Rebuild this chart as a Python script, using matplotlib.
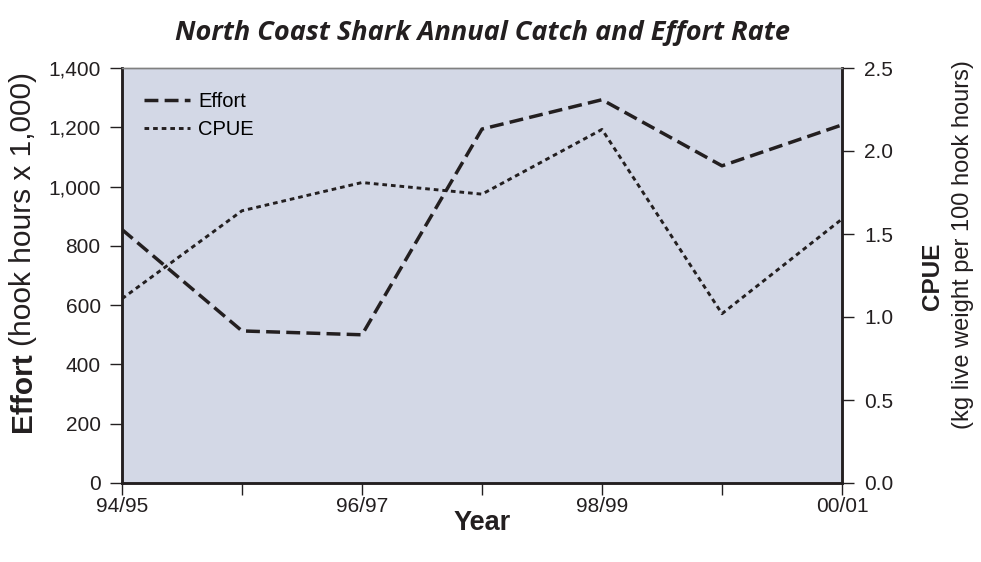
import matplotlib
matplotlib.use("Agg")
import matplotlib.pyplot as plt

# Season labels and annual series
seasons = ["94/95", "95/96", "96/97", "97/98", "98/99", "99/00", "00/01"]
effort = [855, 513, 500, 1194, 1293, 1070, 1208]      # hook hours x 1,000
cpue = [1.11, 1.64, 1.81, 1.74, 2.13, 1.02, 1.59]      # kg per 100 hook hours
effort_ticks = [0, 200, 400, 600, 800, 1000, 1200, 1400]
cpue_ticks = [0.0, 0.5, 1.0, 1.5, 2.0, 2.5]

INK = "#231f20"
W, H = 981, 562
plt.rcParams["font.family"] = ["Liberation Sans", "DejaVu Sans"]

fig = plt.figure(figsize=(W / 100, H / 100), dpi=100)
ax = fig.add_axes([122 / W, 1 - 483 / H, 720 / W, 415 / H])
ax.set_facecolor("#d3d8e6")
ax2 = ax.twinx()

x = list(range(len(seasons)))
l1, = ax.plot(x, effort, color=INK, lw=2.5, dashes=(4.0, 1.8), label="Effort")
l2, = ax2.plot(x, cpue, color=INK, lw=2.1, dashes=(1.6, 1.35), label="CPUE")

ax.set_xlim(0, 6)
ax.set_ylim(0, 1400)
ax2.set_ylim(0, 2.5)

ax.set_xticks(x)
ax.set_xticklabels([s if i % 2 == 0 else "" for i, s in enumerate(seasons)])
ax.set_yticks(effort_ticks)
ax.set_yticklabels([f"{v:,}" for v in effort_ticks])
ax2.set_yticks(cpue_ticks)
ax2.set_yticklabels([f"{v:.1f}" for v in cpue_ticks])

for a in (ax, ax2):
    a.tick_params(axis="both", which="major", length=8.3, width=1.0,
                  color=INK, labelsize=15, labelcolor=INK, direction="out")
ax.tick_params(axis="y", pad=7)
ax2.tick_params(axis="y", pad=7.5)
ax.tick_params(axis="x", pad=1.5)

for a in (ax, ax2):
    for side in ("left", "right", "bottom"):
        a.spines[side].set_color(INK)
        a.spines[side].set_linewidth(1.8)
    a.spines["top"].set_color("#808080")
    a.spines["top"].set_linewidth(1.0)

leg = ax.legend(handles=[l1, l2], loc="upper left", frameon=False, fontsize=14.5,
                handlelength=2.3, handletextpad=0.4, labelspacing=0.45,
                borderpad=0, borderaxespad=0,
                bbox_to_anchor=(22 / 720, (483 - 92) / 415))

# Title and x-axis label
title = fig.text(0.492, 1 - 33 / H, "North Coast Shark Annual Catch and Effort Rate",
                 ha="center", va="center", fontsize=16.5, fontweight="bold",
                 style="italic", family="Open Sans", color=INK)
fig.text(482 / W, 1 - 523 / H, "Year", ha="center", va="center",
         fontsize=19.5, fontweight="bold", color=INK)

fig.canvas.draw()
renderer = fig.canvas.get_renderer()

# Scale the title to its intended width
tw = title.get_window_extent(renderer).width
title.set_fontsize(16.5 * 615 / tw)


def stacked_label(xpx, center_px, parts):
    """Draw rotated text pieces end to end, centred on center_px (pixels from top)."""
    texts = [fig.text(xpx / W, 0.5, s, rotation=90, ha="center", va="bottom",
                      color=INK, **kw) for s, kw in parts]
    fig.canvas.draw()
    heights = [t.get_window_extent(renderer).height for t in texts]
    y = (H - center_px) - sum(heights) / 2
    for t, h in zip(texts, heights):
        t.set_y(y / H)
        y += h
    return texts


# Left label: bold "Effort" followed by the units
stacked_label(23, 252, [("Effort", dict(fontsize=21.5, fontweight="bold")),
                        ("\u2009(hook hours x 1,000)", dict(fontsize=21.5))])

# Right label: bold "CPUE" beside the units line
fig.text(932 / W, 1 - 276 / H, "CPUE", rotation=90, ha="center", va="center",
         fontsize=17.5, fontweight="bold", color=INK)
fig.text(963 / W, 1 - 245 / H, "(kg live weight per 100 hook hours)", rotation=90,
         ha="center", va="center", fontsize=17, color=INK)

fig.savefig("out.png", dpi=100)
